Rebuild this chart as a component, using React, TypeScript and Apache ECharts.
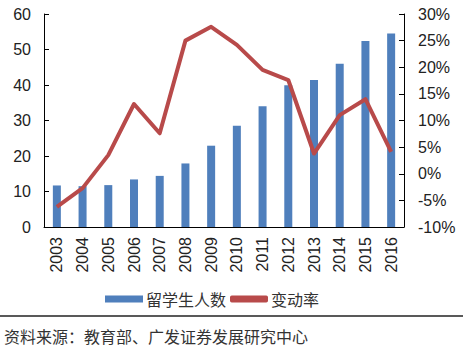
import React, { useEffect, useRef } from "react";
import * as echarts from "echarts";

const years = ["2003","2004","2005","2006","2007","2008","2009","2010","2011","2012","2013","2014","2015","2016"];
const students = [11.7, 11.5, 11.8, 13.4, 14.4, 17.9, 22.9, 28.5, 34.0, 39.9, 41.4, 46.0, 52.4, 54.5];
const changeRate = [-6.2, -2.7, 3.5, 13.1, 7.6, 25.0, 27.6, 24.2, 19.5, 17.6, 3.8, 11.0, 14.0, 4.1];
const leftTicks = { min: 0, max: 60, interval: 10 };
const rightTicks = { min: -10, max: 30, interval: 5 };
const sourceText = "资料来源：教育部、广发证券发展研究中心";

export default function App() {
  const ref = useRef<HTMLDivElement>(null);
  useEffect(() => {
    const chart = echarts.init(ref.current!, null, { renderer: "svg" });
    const font = "Liberation Sans, Arial, sans-serif";
    chart.setOption({
      animation: false,
      backgroundColor: "#fff",
      textStyle: { fontFamily: font },
      grid: { left: 44, right: 59, top: 14, bottom: 126, containLabel: false },
      legend: {
        left: 100,
        top: 286,
        itemGap: 4,
        itemWidth: 38,
        itemHeight: 7,
        textStyle: { fontSize: 16, color: "#333", fontFamily: "Noto Sans CJK SC", padding: [0, 0, 0, -2] },
        data: [
          { name: "留学生人数", icon: "rect" },
          { name: "变动率", icon: "roundRect", itemStyle: { color: "#B84A4A" } },
        ],
      },
      xAxis: {
        type: "category",
        data: years,
        axisLine: { lineStyle: { color: "#000", width: 1 } },
        axisTick: { show: false },
        axisLabel: { rotate: 90, fontSize: 16, color: "#222", margin: 10, fontFamily: font },
      },
      yAxis: [
        {
          type: "value",
          ...leftTicks,
          splitLine: { show: false },
          axisLine: { show: true, lineStyle: { color: "#000" } },
          axisTick: { show: true, inside: true, length: 5, lineStyle: { color: "#000" } },
          axisLabel: { fontSize: 16, color: "#222", margin: 13, fontFamily: font },
        },
        {
          type: "value",
          ...rightTicks,
          splitLine: { show: false },
          axisLine: { show: true, lineStyle: { color: "#000" } },
          axisTick: { show: true, inside: true, length: 5, lineStyle: { color: "#000" } },
          axisLabel: { fontSize: 16, color: "#222", margin: 14, formatter: "{value}%", fontFamily: font },
        },
      ],
      series: [
        {
          name: "留学生人数",
          type: "bar",
          data: students,
          barWidth: 8,
          itemStyle: { color: "#4F7FBC" },
        },
        {
          name: "变动率",
          type: "line",
          yAxisIndex: 1,
          data: changeRate,
          showSymbol: false,
          symbol: "none",
          lineStyle: { color: "#B84A4A", width: 4, join: "round" },
          itemStyle: { color: "#B84A4A" },
        },
      ],
      graphic: [
        {
          type: "line",
          shape: { x1: 0, y1: 316, x2: 463, y2: 316 },
          style: { stroke: "#222", lineWidth: 1.5 },
        },
        {
          type: "text",
          left: 4,
          top: 328,
          style: { text: sourceText, fontSize: 16, fill: "#333", fontFamily: "Noto Sans CJK SC" },
        },
      ],
    });
    return () => chart.dispose();
  }, []);
  return <div ref={ref} style={{ width: 463, height: 353, position: "fixed", left: 0, top: 0 }} />;
}
